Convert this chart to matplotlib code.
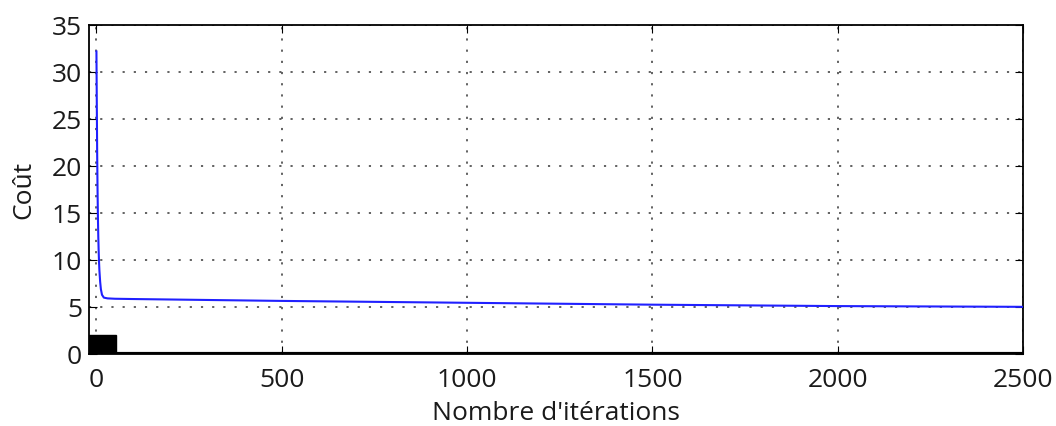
import matplotlib
matplotlib.use('Agg')
import matplotlib.pyplot as plt

plt.rcParams['font.family'] = ['Open Sans', 'DejaVu Sans']

# cost curve
iters = [0, 1, 2, 3, 4, 5, 6, 7, 8, 10, 12, 15, 20, 30, 50, 100, 200, 500,
         1000, 1500, 2000, 2500]
cost = [32.2, 26.5, 21.3, 17.5, 14.6, 12.5, 11.0, 9.8, 8.9, 7.7, 6.9, 6.3,
        6.0, 5.92, 5.88, 5.85, 5.8, 5.65, 5.45, 5.25, 5.1, 5.02]

# black block in the corner
bar_left = [-20]
bar_width = [73]
bar_height = [2]

text_col = '#1a1a1a'

fig = plt.figure(figsize=(10.56, 4.26), dpi=100)
ax = fig.add_axes([0.0843, 0.169, 0.8845, 0.772])

ax.bar(bar_left, bar_height, width=bar_width, align='edge', color='black',
       edgecolor='black', zorder=2)
ax.axhline(0, color='black', linewidth=3, zorder=3)
ax.plot(iters, cost, color='#2020ff', linewidth=1.5, zorder=4)

ax.set_xlim(-20, 2500)
ax.set_ylim(0, 35)
ax.set_xticks(range(0, 2501, 500))
ax.set_yticks(range(0, 36, 5))
ax.grid(True, linestyle=(0, (1.2, 5)), color='#555555', linewidth=1.3)
ax.tick_params(direction='in', top=True, right=True, labelsize=19, length=6,
               labelcolor=text_col)
ax.tick_params(axis='x', pad=10)
ax.tick_params(axis='y', pad=5)
for s in ax.spines.values():
    s.set_linewidth(1.3)

ax.set_xlabel("Nombre d'itérations", fontsize=19, color=text_col, labelpad=6)
ax.set_ylabel('Coût', fontsize=19, color=text_col, labelpad=11)

fig.savefig('out.png', dpi=100)
